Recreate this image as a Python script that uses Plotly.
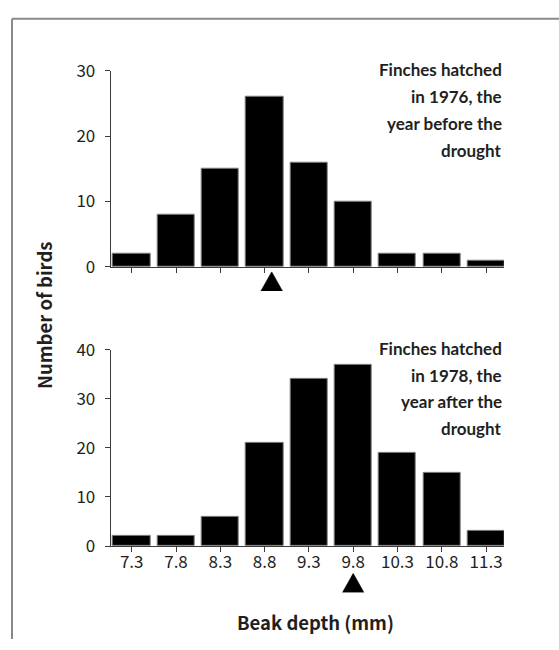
import plotly.graph_objects as go

# ---------------- data ----------------
depth = [7.3, 7.8, 8.3, 8.8, 9.3, 9.8, 10.3, 10.8, 11.3]
depth_labels = ["7.3", "7.8", "8.3", "8.8", "9.3", "9.8", "10.3", "10.8", "11.3"]
birds_1976 = [2, 8, 15, 26, 16, 10, 2, 2, 1]
birds_1978 = [2, 2, 6, 21, 34, 37, 19, 15, 3]
mean_1976 = 8.88
mean_1978 = 9.8
label_1976 = ["Finches hatched", "in 1976, the", "year before the", "drought"]
label_1978 = ["Finches hatched", "in 1978, the", "year after the", "drought"]
y_ticks_1976 = [0, 10, 20, 30]
y_ticks_1978 = [0, 10, 20, 30, 40]
y_title = "Number of birds"
x_title = "Beak depth (mm)"

# ---------------- layout helpers ----------------
W, H = 559, 650


def fx(p):
    return p / W


def fy(p):
    return 1 - p / H


TXT = "#231f20"
AX = "#3a3a3a"
SANS = "Noto Sans CJK SC, Open Sans, Liberation Sans, sans-serif"
TICKFONT = dict(family=SANS, size=17, color=TXT)
BOLDFONT = dict(family=SANS, size=18.5, color=TXT, weight="bold")
NARROW = dict(family="Lato, Roboto, sans-serif", size=17, color=TXT, weight="bold")

x_left, x_right = 110.7, 504.0
top_hi, top_lo = 59.0, 263.0
bot_hi, bot_lo = 349.3, 553.3
tri_top = (268.0, 288.0)      # pixel extent of the mean marker strips
tri_bot = (581.7, 601.7)
tri_half = 0.122              # half base width of the mean marker, in x units

bar_style = dict(color="black", line=dict(color="#7f7f7f", width=1))

fig = go.Figure()
fig.add_trace(go.Bar(x=depth, y=birds_1976, width=0.42, marker=bar_style,
                     xaxis="x", yaxis="y", showlegend=False, hoverinfo="x+y"))
fig.add_trace(go.Bar(x=depth, y=birds_1978, width=0.42, marker=bar_style,
                     xaxis="x2", yaxis="y2", showlegend=False, hoverinfo="x+y"))

# mean markers (filled triangles) in thin strips just below each axis
for m, xa, ya in ((mean_1976, "x3", "y3"), (mean_1978, "x4", "y4")):
    fig.add_trace(go.Scatter(x=[m - tri_half, m + tri_half, m, m - tri_half], y=[0, 0, 1, 0],
                             mode="lines", fill="toself", fillcolor="black",
                             line=dict(color="black", width=0.5),
                             xaxis=xa, yaxis=ya, showlegend=False, hoverinfo="skip"))

xrange = [7.063, 11.502]
common_x = dict(range=xrange, showline=True, linecolor=AX, linewidth=1, ticks="outside",
                ticklen=5, tickcolor=AX, tickwidth=1, tickvals=depth, ticktext=depth_labels,
                showgrid=False, zeroline=False, tickfont=TICKFONT, fixedrange=True)
common_y = dict(showline=True, linecolor=AX, linewidth=1, ticks="outside", ticklen=5,
                tickcolor=AX, tickwidth=1, showgrid=False, zeroline=False,
                tickfont=TICKFONT, ticklabelstandoff=6, fixedrange=True)
hidden = dict(visible=False, showgrid=False, zeroline=False, fixedrange=True)

fig.update_layout(
    width=W, height=H, autosize=False,
    margin=dict(l=0, r=0, t=0, b=0),
    paper_bgcolor="white", plot_bgcolor="rgba(0,0,0,0)",
    bargap=0,
    xaxis=dict(domain=[fx(x_left), fx(x_right)], anchor="y", showticklabels=False, **common_x),
    yaxis=dict(domain=[fy(top_lo), fy(top_hi)], anchor="x", range=[0, max(y_ticks_1976)],
               tickvals=y_ticks_1976, **common_y),
    xaxis2=dict(domain=[fx(x_left), fx(x_right)], anchor="y2", showticklabels=True,
                ticklabelstandoff=-4, **common_x),
    yaxis2=dict(domain=[fy(bot_lo), fy(bot_hi)], anchor="x2", range=[0, max(y_ticks_1978)],
                tickvals=y_ticks_1978, **common_y),
    xaxis3=dict(domain=[fx(x_left), fx(x_right)], anchor="y3", range=xrange, **hidden),
    yaxis3=dict(domain=[fy(tri_top[1]), fy(tri_top[0])], anchor="x3", range=[0, 1], **hidden),
    xaxis4=dict(domain=[fx(x_left), fx(x_right)], anchor="y4", range=xrange, **hidden),
    yaxis4=dict(domain=[fy(tri_bot[1]), fy(tri_bot[0])], anchor="x4", range=[0, 1], **hidden),
)

annotations = []
# panel labels, right aligned, one annotation per line
for lines, first_base in ((label_1976, 64.0), (label_1978, 354.0)):
    for i, line in enumerate(lines):
        base = first_base + 28 * i
        annotations.append(dict(text=line, x=fx(x_right), y=fy(base - 6.5), xref="paper", yref="paper",
                                xanchor="right", yanchor="middle", showarrow=False, font=NARROW))
annotations.append(dict(text=y_title, x=fx(44), y=fy(314), xref="paper", yref="paper",
                        textangle=-90, xanchor="center", yanchor="middle", showarrow=False, font=BOLDFONT))
annotations.append(dict(text=x_title, x=fx(315), y=fy(632), xref="paper", yref="paper",
                        xanchor="center", yanchor="middle", showarrow=False, font=BOLDFONT))
fig.update_layout(annotations=annotations)

# thin grey frame along the top and left edges
fig.update_layout(shapes=[
    dict(type="line", xref="paper", yref="paper", x0=fx(12), x1=1, y0=fy(5), y1=fy(5),
         line=dict(color="#8a8a8a", width=2)),
    dict(type="line", xref="paper", yref="paper", x0=fx(12), x1=fx(12), y0=fy(5), y1=0,
         line=dict(color="#8a8a8a", width=2)),
])

fig.write_html("out.html", config=dict(displayModeBar=False),
               post_script="document.body.style.margin='0px';")
